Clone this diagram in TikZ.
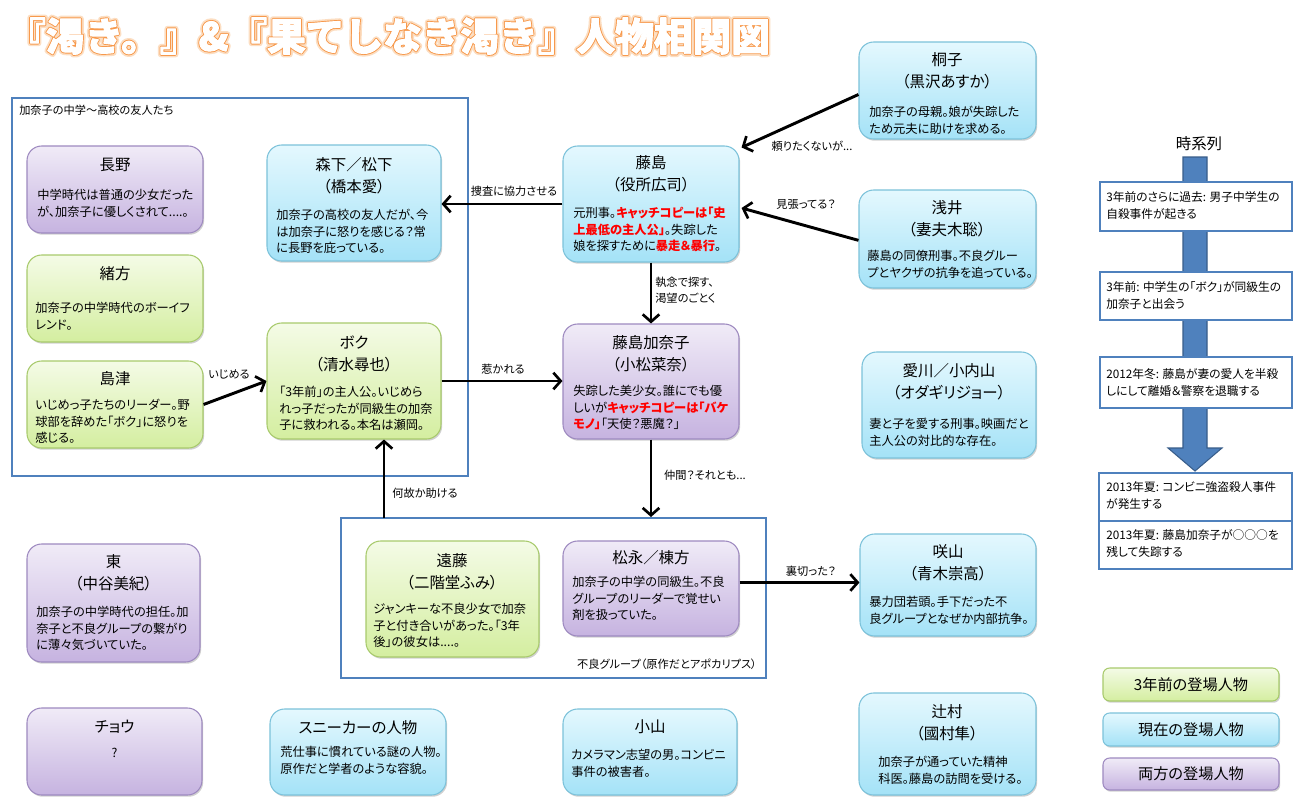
\documentclass[tikz,border=0pt]{standalone}
\usepackage{fontspec}
\setmainfont{Noto Sans CJK JP}[RawFeature=+palt]
\newfontfamily\titlefont{Noto Sans CJK JP}
\usetikzlibrary{arrows.meta,shadows,fit}
\definecolor{gTop}{HTML}{F4FBE6}
\definecolor{gBot}{HTML}{D4EEA0}
\definecolor{gBrd}{HTML}{A8CA6C}
\definecolor{bTop}{HTML}{E4F8FE}
\definecolor{bBot}{HTML}{A4E2F7}
\definecolor{bBrd}{HTML}{7CC2DA}
\definecolor{pTop}{HTML}{F0EBF7}
\definecolor{pBot}{HTML}{C6B3E0}
\definecolor{pBrd}{HTML}{9E8AC0}
\definecolor{frameBlue}{HTML}{4F81BD}
\definecolor{frameDark}{HTML}{385D8A}
\newcommand\redb[1]{\textcolor{red}{\bfseries #1}}
\newcommand\mytitletext{『渇き。』\&『果てしなき渇き』人物相関図}
\begin{document}
\begin{tikzpicture}[x=0.75pt,y=-0.75pt,
  pbox/.style={rounded corners=11pt, draw, line width=0.8pt, inner sep=0pt,
     drop shadow={shadow xshift=0.9pt, shadow yshift=-1.3pt, opacity=0.3, fill=black!60}},
  gB/.style={pbox, draw=gBrd, top color=gTop, bottom color=gBot},
  bB/.style={pbox, draw=bBrd, top color=bTop, bottom color=bBot},
  pB/.style={pbox, draw=pBrd, top color=pTop, bottom color=pBot},
  ttl/.style={font=\fontsize{11.6}{16.2}\selectfont, align=center, inner sep=0pt},
  desc/.style={font=\fontsize{9.2}{12.4}\selectfont, align=left, inner sep=0pt, anchor=north west},
  elab/.style={font=\fontsize{8.4}{12}\selectfont, align=left, inner sep=0pt},
  conn/.style={line width=2.2pt, -{Straight Barb[length=5.5pt,width=12.5pt,line width=2pt]}},
  grp/.style={draw=frameBlue, line width=1.5pt, inner sep=0pt},
  tl/.style={draw=frameBlue, line width=1.6pt, fill=white, inner sep=0pt},
  tltext/.style={font=\fontsize{8.8}{12.8}\selectfont, align=left, inner sep=0pt, anchor=north west},
  mainttl/.style={font=\titlefont\bfseries\fontsize{29}{32}\selectfont, inner sep=0pt, anchor=west},
  leg/.style={rounded corners=5pt},
  legtext/.style={font=\fontsize{11.4}{13}\selectfont, inner sep=0pt},
]
\useasboundingbox (0,0) rectangle (1300,808);
\fill[white] (0,0) rectangle (1300,808);

% title: soft glow, orange ring, white (slightly emboldened) letters
\node[mainttl] (titleglow) at (7,36) {\special{pdf:literal direct 1 j 1 Tr 4.6 w 0.99 0.87 0.76 RG}\mytitletext\special{pdf:literal direct 0 Tr}};
\node[mainttl] (titlering) at (7,36) {\special{pdf:literal direct 1 j 1 Tr 2.1 w 0.97 0.60 0.30 RG}\mytitletext\special{pdf:literal direct 0 Tr}};
\node[mainttl] (title) at (7,36) {\color{white}\special{pdf:literal direct 1 j 2 Tr 0.7 w 1 1 1 RG}\mytitletext\special{pdf:literal direct 0 Tr}};

% group frames
\node[grp, fit={(12,98)(468,476)}] (friends) {};
\node[grp, fit={(341,518)(766,678)}] (furyo) {};
\node[elab, anchor=west] (friendslab) at (19,110) {加奈子の中学～高校の友人たち};
\node[elab, anchor=east] (furyolab) at (757,664) {不良グループ（原作だとアポカリプス）};

% people
\node[pB, fit={(27,146)(203,233)}] (nagano) {};
\node[ttl] (naganoT) at (115,165) {長野};
\node[desc] (naganoD) at (37,189) {中学時代は普通の少女だった\\が、加奈子に優しくされて....。};

\node[gB, fit={(27,255)(203,342)}] (ogata) {};
\node[ttl] (ogataT) at (115,274) {緒方};
\node[desc] (ogataD) at (35,302) {加奈子の中学時代のボーイフ\\レンド。};

\node[gB, fit={(27,361)(203,448)}] (shimazu) {};
\node[ttl] (shimazuT) at (115,379) {島津};
\node[desc] (shimazuD) at (35,399) {いじめっ子たちのリーダー。野\\球部を辞めた「ボク」に怒りを\\感じる。};

\node[bB, fit={(267,145)(441,261)}] (morishita) {};
\node[ttl] (morishitaT) at (354,175.5) {森下／松下\\（橋本愛）};
\node[desc] (morishitaD) at (276,209) {加奈子の高校の友人だが、今\\は加奈子に怒りを感じる？常\\に長野を庇っている。};

\node[gB, fit={(267,323)(441,439)}] (boku) {};
\node[ttl] (bokuT) at (354,354) {ボク\\（清水尋也）};
\node[desc] (bokuD) at (279,386) {「3年前」の主人公。いじめら\\れっ子だったが同級生の加奈\\子に救われる。本名は瀬岡。};

\node[bB, fit={(563,146)(739,262)}] (fujishima) {};
\node[ttl] (fujishimaT) at (651,174) {藤島\\（役所広司）};
\node[desc] (fujishimaD) at (573,207) {元刑事。\redb{キャッチコピーは「史}\\\redb{上最低の主人公」}。失踪した\\娘を探すために\redb{暴走＆暴行}。};

\node[bB, fit={(859,42)(1036,139)}] (kiriko) {};
\node[ttl] (kirikoT) at (947,71) {桐子\\（黒沢あすか）};
\node[desc] (kirikoD) at (869,106) {加奈子の母親。娘が失踪した\\ため元夫に助けを求める。};

\node[bB, fit={(859,190)(1036,288)}] (asai) {};
\node[ttl] (asaiT) at (947,219) {浅井\\（妻夫木聡）};
\node[desc] (asaiD) at (867,250) {藤島の同僚刑事。不良グルー\\プとヤクザの抗争を追っている。};

\node[pB, fit={(563,324)(739,439)}] (kanako) {};
\node[ttl] (kanakoT) at (651,354) {藤島加奈子\\（小松菜奈）};
\node[desc] (kanakoD) at (573,385) {失踪した美少女。誰にでも優\\しいが\redb{キャッチコピーは「バケ}\\\redb{モノ」}「天使？悪魔？」};

\node[bB, fit={(862,352)(1036,458)}] (aikawa) {};
\node[ttl] (aikawaT) at (949,381.5) {愛川／小内山\\（オダギリジョー）};
\node[desc] (aikawaD) at (869,418) {妻と子を愛する刑事。映画だと\\主人公の対比的な存在。};

\node[gB, fit={(366,541)(539,657)}] (endo) {};
\node[ttl] (endoT) at (452,571.5) {遠藤\\（二階堂ふみ）};
\node[desc] (endoD) at (373,603) {ジャンキーな不良少女で加奈\\子と付き合いがあった。「3年\\後」の彼女は....。};

\node[pB, fit={(563,541)(739,636)}] (matsunaga) {};
\node[ttl] (matsunagaT) at (651,558) {松永／棟方};
\node[desc] (matsunagaD) at (572,576) {加奈子の中学の同級生。不良\\グループのリーダーで覚せい\\剤を扱っていた。};

\node[bB, fit={(860,534)(1036,636)}] (sakiyama) {};
\node[ttl] (sakiyamaT) at (948,563) {咲山\\（青木崇高）};
\node[desc] (sakiyamaD) at (869,596) {暴力団若頭。手下だった不\\良グループとなぜか内部抗争。};

\node[pB, fit={(27,544)(200,662)}] (azuma) {};
\node[ttl] (azumaT) at (113.5,573) {東\\（中谷美紀）};
\node[desc] (azumaD) at (36,606) {加奈子の中学時代の担任。加\\奈子と不良グループの繋がり\\に薄々気づいていた。};

\node[pB, fit={(27,708)(202,795)}] (chou) {};
\node[ttl] (chouT) at (114.5,727) {チョウ};
\node[desc, anchor=center] (chouD) at (114.5,753) {?};

\node[bB, fit={(270,709)(446,795)}] (sneaker) {};
\node[ttl] (sneakerT) at (358,728) {スニーカーの人物};
\node[desc] (sneakerD) at (280,746) {荒仕事に慣れている謎の人物。\\原作だと学者のような容貌。};

\node[bB, fit={(563,709)(737,795)}] (koyama) {};
\node[ttl] (koyamaT) at (650,727) {小山};
\node[desc] (koyamaD) at (571,749) {カメラマン志望の男。コンビニ\\事件の被害者。};

\node[bB, fit={(859,693)(1036,795)}] (tsujimura) {};
\node[ttl] (tsujimuraT) at (947,722.5) {辻村\\（國村隼）};
\node[desc] (tsujimuraD) at (878,756) {加奈子が通っていた精神\\科医。藤島の訪問を受ける。};

% connectors
\draw[conn] (fujishima.west) -- (fujishima.west -| morishita.east);
\draw[conn] ([yshift=-3pt]kiriko.west) -- ([shift={(1.5pt,-1.5pt)}]fujishima.north east);
\draw[conn] ([yshift=-1pt]asai.west) -- ([shift={(1.5pt,-3pt)}]fujishima.east);
\draw[conn] (fujishima.south) -- (kanako.north);
\draw[conn] (boku.east) -- (boku.east -| kanako.west);
\draw[conn] (shimazu.east) -- (boku.west);
\coordinate (helpup) at (384,518);
\draw[conn] (helpup) -- (helpup |- boku.south);
\draw[conn] (kanako.south) -- (kanako.south |- furyo.north);
\coordinate (betray) at ([yshift=4.5pt]matsunaga.east);
\draw[conn] (betray) -- (betray -| sakiyama.west);

% connector labels
\node[elab] (l1) at (514,191) {捜査に協力させる};
\node[elab] (l2) at (812,146) {頼りたくないが...};
\node[elab] (l3) at (806,204) {見張ってる？};
\node[elab, anchor=west] (l4) at (655,290) {執念で探す、\\渇望のごとく};
\node[elab] (l5) at (503,369) {惹かれる};
\node[elab] (l6) at (229,374) {いじめる};
\node[elab] (l7) at (425,493) {何故か助ける};
\node[elab] (l8) at (705,475) {仲間？それとも...};
\node[elab] (l9) at (811,571) {裏切った？};

% timeline
\node[font=\fontsize{11.6}{14}\selectfont, inner sep=0pt] (tlhead) at (1199,144) {時系列};
\draw[fill=frameBlue, draw=frameDark, line width=0.8pt] (1183,157) -- (1207,157) -- (1207,448) -- (1222,448) -- (1195,471) -- (1168,448) -- (1183,448) -- cycle;
\node[tl, fit={(1100,182)(1292,231)}] (t1) {};
\node[tltext] (t1x) at (1106,191) {3年前のさらに過去: 男子中学生の\\自殺事件が起きる};
\node[tl, fit={(1100,272)(1292,320)}] (t2) {};
\node[tltext] (t2x) at (1106,281) {3年前: 中学生の「ボク」が同級生の\\加奈子と出会う};
\node[tl, fit={(1100,357)(1292,408)}] (t3) {};
\node[tltext] (t3x) at (1106,368) {2012年冬: 藤島が妻の愛人を半殺\\しにして離婚＆警察を退職する};
\node[tl, fit={(1099,473)(1292,521)}] (t4) {};
\node[tltext] (t4x) at (1106,481) {2013年夏: コンビニ強盗殺人事件\\が発生する};
\node[tl, fit={(1099,521)(1292,569)}] (t5) {};
\node[tltext] (t5x) at (1106,529) {2013年夏: 藤島加奈子が○○○を\\残して失踪する};

% legend
\node[gB, leg, fit={(1103,668)(1279,701)}] (leg1) {};
\node[legtext] (leg1t) at (1191,685) {3年前の登場人物};
\node[bB, leg, fit={(1103,713)(1279,746)}] (leg2) {};
\node[legtext] (leg2t) at (1191,729.5) {現在の登場人物};
\node[pB, leg, fit={(1103,758)(1279,790)}] (leg3) {};
\node[legtext] (leg3t) at (1191,774) {両方の登場人物};
\end{tikzpicture}
\end{document}
